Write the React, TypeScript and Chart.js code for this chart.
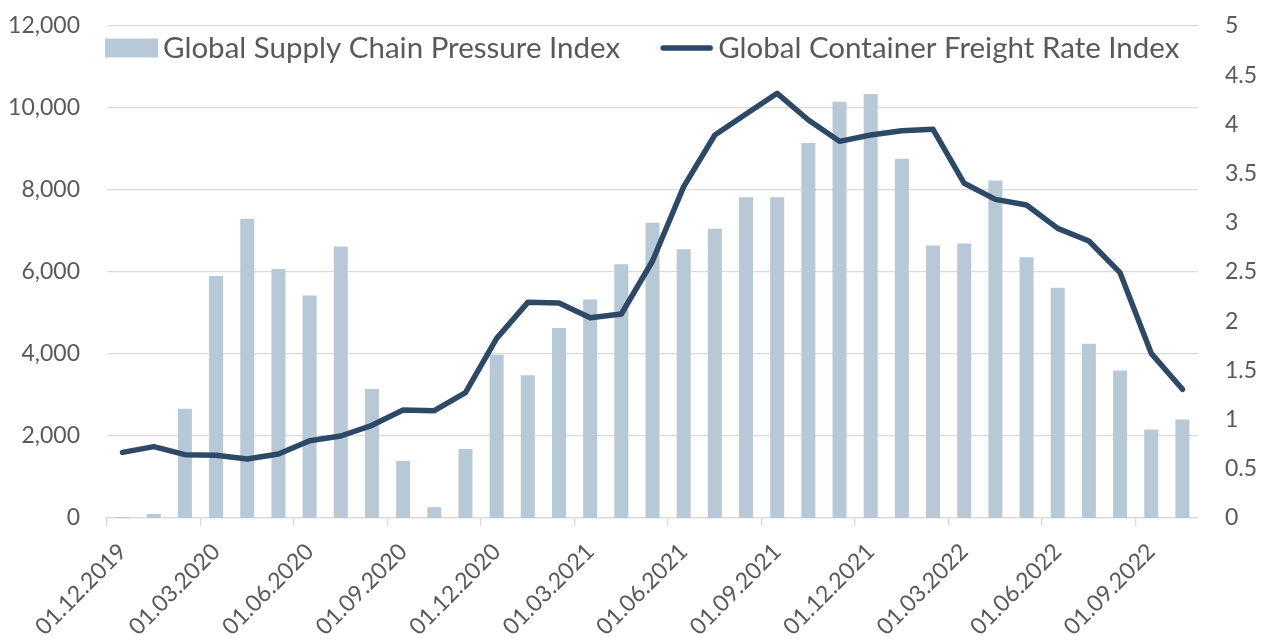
import React, { useEffect, useRef } from "react";
import { Chart, registerables } from "chart.js";

Chart.register(...registerables);

const categories = [
  "01.12.2019", "01.01.2020", "01.02.2020", "01.03.2020", "01.04.2020", "01.05.2020",
  "01.06.2020", "01.07.2020", "01.08.2020", "01.09.2020", "01.10.2020", "01.11.2020",
  "01.12.2020", "01.01.2021", "01.02.2021", "01.03.2021", "01.04.2021", "01.05.2021",
  "01.06.2021", "01.07.2021", "01.08.2021", "01.09.2021", "01.10.2021", "01.11.2021",
  "01.12.2021", "01.01.2022", "01.02.2022", "01.03.2022", "01.04.2022", "01.05.2022",
  "01.06.2022", "01.07.2022", "01.08.2022", "01.09.2022", "01.10.2022",
];

// Global Supply Chain Pressure Index (right axis)
const supplyChainPressure = [
  0.01, 0.04, 1.11, 2.46, 3.04, 2.53, 2.26, 2.76, 1.31, 0.58,
  0.11, 0.7, 1.66, 1.45, 1.93, 2.22, 2.58, 3.0, 2.73, 2.94,
  3.26, 3.26, 3.81, 4.23, 4.31, 3.65, 2.77, 2.79, 3.43, 2.65,
  2.34, 1.77, 1.5, 0.9, 1.0,
];

// Global Container Freight Rate Index (left axis)
const freightRate = [
  1600, 1740, 1545, 1528, 1440, 1560, 1886, 2000, 2260, 2634,
  2618, 3057, 4382, 5260, 5244, 4886, 4976, 6268, 8081, 9341,
  9854, 10358, 9707, 9187, 9341, 9447, 9480, 8163, 7772, 7634,
  7065, 6756, 5984, 4016, 3139,
];

const seriesNames = ["Global Supply Chain Pressure Index", "Global Container Freight Rate Index"];

const BAR_COLOR = "#b7c9d7";
const LINE_COLOR = "#2d4965";
const TEXT_COLOR = "#595959";
const GRID_COLOR = "#d9d9d9";
const FONT_FAMILY = "Lato";
const TICK_FONT_SIZE = 23;
const LEGEND_FONT_SIZE = 29.5;

const insideLegend = {
  id: "insideLegend",
  afterDraw(chart: any) {
    const { ctx, chartArea } = chart;
    ctx.save();
    ctx.font = `${LEGEND_FONT_SIZE}px ${FONT_FAMILY}`;
    ctx.textBaseline = "middle";
    ctx.textAlign = "left";
    const cy = chartArea.top + 22;
    let x = chartArea.left - 2;
    const boxW = 53;
    const textGap = 5;
    const itemGap = 40;
    chart.data.datasets.forEach((ds: any) => {
      if (ds.type === "bar") {
        ctx.fillStyle = ds.backgroundColor;
        ctx.fillRect(x, cy - 9.5, boxW, 19);
      } else {
        ctx.strokeStyle = ds.borderColor;
        ctx.lineWidth = ds.borderWidth;
        ctx.lineCap = "round";
        ctx.beginPath();
        ctx.moveTo(x + 3, cy);
        ctx.lineTo(x + boxW - 3, cy);
        ctx.stroke();
      }
      ctx.fillStyle = TEXT_COLOR;
      ctx.fillText(ds.label, x + boxW + textGap, cy);
      x += boxW + textGap + ctx.measureText(ds.label).width + itemGap;
    });
    ctx.restore();
  },
};

export default function App() {
  const canvasRef = useRef<HTMLCanvasElement | null>(null);

  useEffect(() => {
    if (!canvasRef.current) return;
    const chart = new Chart(canvasRef.current, {
      type: "bar",
      data: {
        labels: categories,
        datasets: [
          {
            type: "bar",
            label: seriesNames[0],
            data: supplyChainPressure,
            backgroundColor: BAR_COLOR,
            yAxisID: "yRight",
            barPercentage: 0.45,
            categoryPercentage: 1,
            order: 1,
          },
          {
            type: "line",
            label: seriesNames[1],
            data: freightRate,
            borderColor: LINE_COLOR,
            backgroundColor: LINE_COLOR,
            borderWidth: 5.5,
            pointRadius: 0,
            tension: 0,
            borderCapStyle: "round",
            borderJoinStyle: "round",
            yAxisID: "yLeft",
            order: 0,
          },
        ] as any,
      },
      options: {
        responsive: false,
        animation: false,
        layout: { padding: { top: 26, left: 0, right: 0, bottom: 0 } },
        plugins: {
          legend: { display: false },
          tooltip: { enabled: false },
        },
        scales: {
          x: {
            offset: true,
            grid: {
              offset: true,
              drawOnChartArea: false,
              drawTicks: true,
              tickLength: 8,
              lineWidth: 1.3,
              color: (ctx: any) => (typeof ctx.index === "number" && ctx.index % 3 === 0 ? GRID_COLOR : "rgba(0,0,0,0)"),
            },
            border: { display: true, color: GRID_COLOR, width: 1.3 },
            ticks: {
              autoSkip: false,
              maxRotation: 45,
              minRotation: 45,
              padding: 12,
              color: TEXT_COLOR,
              font: { family: FONT_FAMILY, size: TICK_FONT_SIZE },
              callback: (_v: any, i: number) => (i % 3 === 0 ? categories[i] : ""),
            },
            afterFit: (scale: any) => {
              scale.height = 122;
            },
          },
          yLeft: {
            type: "linear",
            position: "left",
            min: 0,
            max: 12000,
            ticks: {
              stepSize: 2000,
              padding: 27,
              color: TEXT_COLOR,
              font: { family: FONT_FAMILY, size: TICK_FONT_SIZE },
              callback: (v: any) => Number(v).toLocaleString("en-US"),
            },
            grid: { color: GRID_COLOR, lineWidth: 1.3, drawTicks: false },
            border: { display: false },
            afterFit: (scale: any) => {
              scale.width = 107;
              scale.paddingTop = 0;
              scale.paddingBottom = 0;
            },
          },
          yRight: {
            type: "linear",
            position: "right",
            min: 0,
            max: 5,
            ticks: {
              stepSize: 0.5,
              padding: 27,
              color: TEXT_COLOR,
              font: { family: FONT_FAMILY, size: TICK_FONT_SIZE },
              callback: (v: any) => String(Number(v)),
            },
            grid: { display: false, drawTicks: false },
            border: { display: false },
            afterFit: (scale: any) => {
              scale.width = 71;
              scale.paddingTop = 0;
              scale.paddingBottom = 0;
            },
          },
        },
      } as any,
      plugins: [insideLegend],
    });
    return () => chart.destroy();
  }, []);

  return (
    <div style={{ position: "absolute", left: 0, top: 0, width: 1269, height: 640, background: "#fff" }}>
      <canvas ref={canvasRef} width={1269} height={640} style={{ display: "block" }} />
    </div>
  );
}
